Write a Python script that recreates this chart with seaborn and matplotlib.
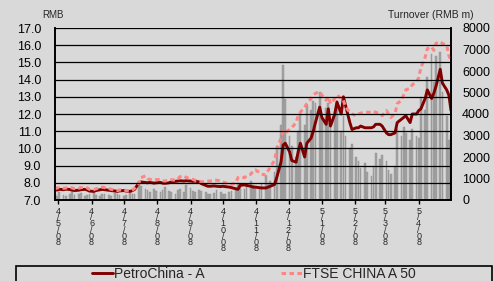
import matplotlib
matplotlib.use("Agg")
import matplotlib.pyplot as plt
from matplotlib.patches import Rectangle
import seaborn as sns
import pandas as pd

# PetroChina A share price (RMB), one value every 2 trading days from 28 Apr 2014
petrochina = [
    7.60, 7.58, 7.62, 7.60, 7.63, 7.61, 7.58, 7.55, 7.57, 7.60,
    7.62, 7.58, 7.52, 7.50, 7.55, 7.60, 7.62, 7.60, 7.57, 7.55,
    7.52, 7.50, 7.53, 7.55, 7.52, 7.50, 7.55, 7.62, 8.00, 8.05,
    8.02, 8.00, 8.03, 7.98, 8.00, 8.02, 7.98, 7.97, 8.00, 8.05,
    8.08, 8.10, 8.12, 8.10, 8.12, 8.10, 8.08, 8.10, 8.05, 7.95,
    7.85, 7.80, 7.80, 7.82, 7.80, 7.78, 7.80, 7.78, 7.75, 7.72,
    7.65, 7.62, 7.85, 7.88, 7.85, 7.80, 7.75, 7.75, 7.72, 7.70,
    7.70, 7.75, 7.80, 7.90, 8.30, 9.20, 10.20, 10.30, 9.80, 9.30,
    9.20, 9.80, 10.30, 9.50, 10.30, 10.60, 11.00, 11.50, 12.40, 11.80,
    11.40, 12.30, 11.30, 12.00, 12.70, 12.00, 13.00, 12.50, 11.50, 11.10,
    11.20, 11.20, 11.30, 11.20, 11.20, 11.20, 11.25, 11.40, 11.40, 11.30,
    10.90, 10.80, 10.80, 10.90, 11.50, 11.70, 11.80, 11.90, 11.50, 12.00,
    12.00, 12.20, 12.30, 12.90, 13.40, 12.90, 13.20, 13.60, 14.60, 13.80,
    13.40, 13.10, 12.20,
]

# FTSE China A50 (rebased to RMB scale)
ftse_a50 = [
    7.65, 7.70, 7.72, 7.68, 7.70, 7.72, 7.70, 7.66, 7.68, 7.72,
    7.75, 7.70, 7.62, 7.60, 7.65, 7.72, 7.75, 7.72, 7.68, 7.62,
    7.58, 7.55, 7.58, 7.60, 7.55, 7.52, 7.58, 7.68, 8.00, 8.30,
    8.40, 8.25, 8.20, 8.15, 8.18, 8.20, 8.12, 8.10, 8.15, 8.18,
    8.15, 8.20, 8.35, 8.40, 8.30, 8.25, 8.20, 8.15, 8.10, 8.05,
    8.10, 8.10, 8.10, 8.15, 8.15, 8.10, 8.05, 8.00, 7.95, 7.90,
    8.00, 8.30, 8.35, 8.30, 8.40, 8.50, 8.70, 8.75, 8.60, 8.50,
    8.45, 8.70, 8.90, 9.30, 9.90, 10.60, 11.00, 10.90, 11.10, 11.20,
    11.50, 11.90, 12.10, 12.40, 12.60, 12.90, 13.10, 13.20, 13.30, 13.10,
    12.80, 13.00, 12.60, 12.90, 13.10, 12.90, 12.80, 12.40, 12.10, 12.00,
    11.90, 12.00, 12.05, 12.10, 12.10, 12.10, 12.15, 12.10, 12.00, 11.90,
    12.20, 12.00, 11.80, 12.00, 12.60, 12.80, 13.10, 13.40, 13.50, 13.70,
    13.90, 14.10, 14.70, 15.30, 15.80, 15.90, 15.70, 16.10, 16.20, 16.10,
    16.00, 15.40, 15.10,
]

# turnover (RMB m)
turnover = [
    300, 200, 350, 250, 180, 300, 400, 220, 260, 310,
    190, 240, 280, 350, 210, 170, 260, 300, 230, 200,
    340, 280, 250, 190, 220, 310, 260, 300, 900, 650,
    500, 450, 380, 520, 400, 350, 480, 600, 420, 380,
    300, 450, 520, 380, 700, 550, 420, 380, 460, 400,
    350, 300, 280, 320, 450, 380, 300, 260, 350, 420,
    500, 800, 600, 500, 650, 900, 700, 550, 600, 800,
    1100, 750, 900, 1300, 2500, 3500, 6300, 4700, 3000, 2500,
    2000, 3200, 4000, 3500, 4400, 4200, 4600, 4500, 5000, 3800,
    4300, 4500, 3500, 4100, 4300, 3200, 3900, 3000, 2400, 2600,
    2000, 1800, 1500, 1700, 1300, 1100, 1600, 2200, 1900, 2100,
    1800, 1400, 1200, 1600, 3300, 3000, 3400, 3100, 2800, 3300,
    3000, 2900, 4800, 4200, 5700, 6800, 5500, 6700, 6900, 5000,
    3900, 2800, 3000,
]

df = pd.DataFrame({
    "date": pd.date_range("2014-04-28", periods=len(petrochina), freq="2B"),
    "pc": petrochina,
    "a50": ftse_a50,
    "turnover": turnover,
})

tick_months = pd.date_range("2014-05-01", "2015-04-01", freq="MS")

BG = "#d9d9d9"
sns.set_theme(style="white")
plt.rcParams["font.family"] = ["Liberation Sans", "DejaVu Sans"]

fig, ax = plt.subplots(figsize=(4.94, 2.81), dpi=100)
fig.patch.set_facecolor(BG)
fig.subplots_adjust(left=55 / 494, right=451 / 494, top=1 - 28 / 281, bottom=1 - 200 / 281)

ax2 = ax.twinx()
ax2.bar(df["date"], df["turnover"], width=1.6, color="#a3a3a3", edgecolor="#8f8f8f", linewidth=0.3)
ax2.set_ylim(0, 8000)
ax2.set_yticks(range(0, 8001, 1000))
ax2.tick_params(axis="y", length=0, pad=8, labelsize=9, colors="black")
ax2.set_facecolor(BG)

# price axis on top of the bars
ax.set_zorder(ax2.get_zorder() + 1)
ax.patch.set_visible(False)

sns.lineplot(data=df, x="date", y="pc", ax=ax, color="#800000", linewidth=2.1,
             label="PetroChina - A")
sns.lineplot(data=df, x="date", y="a50", ax=ax, color="#ff8585", linewidth=2.2,
             linestyle=(0, (1.5, 1.1)), label="FTSE CHINA A 50")

ax.set_ylim(7, 17)
ax.set_yticks([7 + i for i in range(11)])
ax.set_yticklabels([f"{7 + i:.1f}" for i in range(11)])
ax.yaxis.grid(True, color="black", linewidth=0.9)
ax.set_axisbelow(False)
ax.set_xlim(df["date"].iloc[0], df["date"].iloc[-1])
ax.set_xticks(tick_months)
ax.set_xticklabels(["\n".join(f"{d.year % 10}/{d.month}/08") for d in tick_months],
                   fontsize=6.5, linespacing=0.6, va="top")
ax.tick_params(axis="x", length=3, width=1, color="black", direction="out", pad=2, bottom=True)
ax.tick_params(axis="y", length=0, pad=10, labelsize=9, colors="black")
ax.set_xlabel("")
ax.set_ylabel("")
ax2.set_ylabel("")

for a in (ax, ax2):
    for s in a.spines.values():
        s.set_color("black")
        s.set_linewidth(1.2)
    a.spines["top"].set_visible(False)

handles, labels = ax.get_legend_handles_labels()
ax.get_legend().remove()
fig.legend(handles, labels, loc="center", bbox_to_anchor=(254 / 494, 1 - 274 / 281),
           ncol=2, frameon=False, fontsize=10, handlelength=1.5, handletextpad=0.1,
           columnspacing=5.5)
fig.patches.append(Rectangle((16 / 494, -0.1), 476 / 494, (281 - 266) / 281 + 0.1,
                             transform=fig.transFigure, fill=False,
                             edgecolor="black", linewidth=1.2))

fig.text(42 / 494, 1 - 15.5 / 281, "RMB", fontsize=7, va="center", ha="left")
fig.text(474 / 494, 1 - 15 / 281, "Turnover (RMB m)", fontsize=7.5, va="center", ha="right")

fig.savefig("out.png", dpi=100, facecolor=BG)
